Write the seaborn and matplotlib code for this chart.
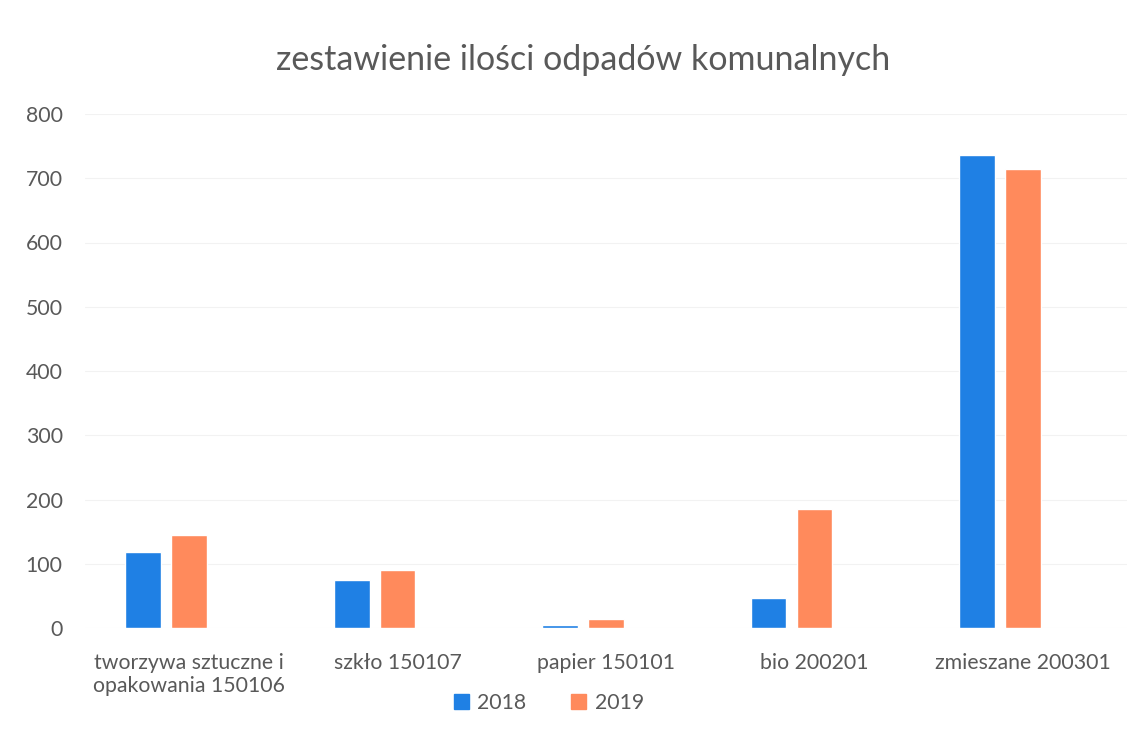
import matplotlib
matplotlib.use("Agg")
import matplotlib.pyplot as plt
import seaborn as sns
import pandas as pd
from matplotlib.patches import Patch

# dane
categories = ["tworzywa sztuczne i\nopakowania 150106", "szkło 150107",
              "papier 150101", "bio 200201", "zmieszane 200301"]
years = ["2018", "2019"]
values_2018 = [119, 74, 4, 47, 736]
values_2019 = [145, 91, 14, 185, 714]
yticks = [0, 100, 200, 300, 400, 500, 600, 700, 800]

df = pd.DataFrame({
    "kategoria": categories * 2,
    "rok": ["2018"] * 5 + ["2019"] * 5,
    "ilosc": values_2018 + values_2019,
})

sns.set_style("white")
plt.rcParams['font.family'] = ['Lato', 'DejaVu Sans']

colors = {"2018": "#1f80e4", "2019": "#ff8a5c", "2020": "#aaaaaa"}
text_col = "#595959"

fig = plt.figure(figsize=(11.46, 7.34), dpi=100)
ax = fig.add_axes([85 / 1146, 106 / 734, 1042 / 1146, 514 / 734])

# trzeci (pusty) poziom odsuwa słupki jak w Excelu
sns.barplot(data=df, x="kategoria", y="ilosc", hue="rok",
            hue_order=["2018", "2019", "2020"], palette=colors,
            width=0.66, gap=0.22, ax=ax, legend=False, errorbar=None,
            saturation=1)

ax.set_xlim(-0.5, 4.5)
ax.set_ylim(0, 800)
ax.set_yticks(yticks)
ax.yaxis.grid(True, color="#f2f2f2", linewidth=0.8)
ax.set_axisbelow(True)
for s in ax.spines.values():
    s.set_visible(False)
ax.tick_params(axis="both", length=0, labelsize=15.3, labelcolor=text_col)
ax.tick_params(axis="y", pad=16)
ax.tick_params(axis="x", pad=18)
ax.set_xlabel("")
ax.set_ylabel("")

fig.suptitle("zestawienie ilości odpadów komunalnych", x=0.509, y=0.94,
             fontsize=24.5, color=text_col)

handles = [Patch(color=colors[y], label=y) for y in years]
fig.legend(handles=handles, loc="center", bbox_to_anchor=(0.479, 0.042),
           ncol=2, frameon=False, fontsize=15.3, labelcolor=text_col,
           handlelength=0.7, handleheight=0.7, handletextpad=0.4,
           columnspacing=2.1)

fig.savefig("out.png", dpi=100)
